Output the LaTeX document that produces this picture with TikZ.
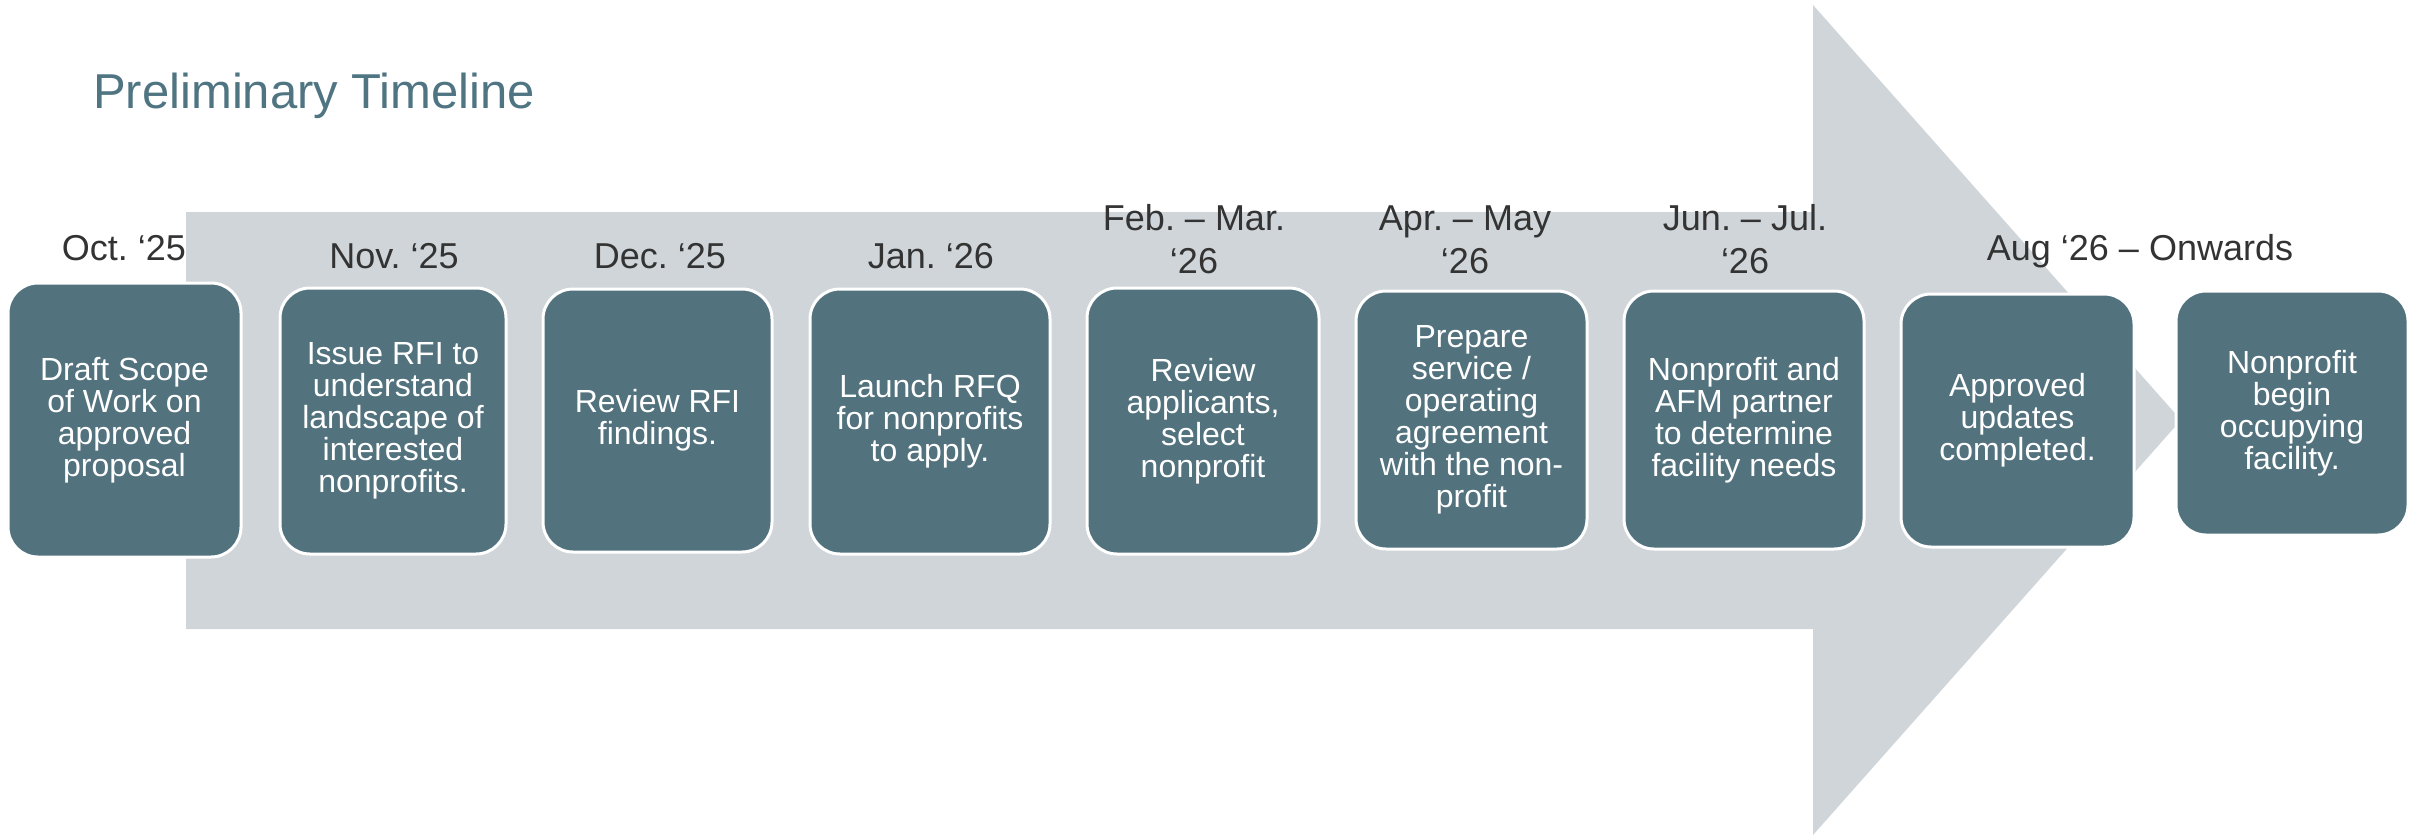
\documentclass[tikz,border=0pt]{standalone}
\usepackage{fontspec}
\setmainfont{Liberation Sans}
\definecolor{boxfill}{HTML}{52727E}
\definecolor{arrowgrey}{HTML}{CFD5D8}
\definecolor{titlecol}{HTML}{4F7482}
\definecolor{datecol}{HTML}{333333}
\begin{document}
\frenchspacing
\begin{tikzpicture}[x=1pt,y=-1pt,
  stepbox/.style={draw=white, line width=3pt, fill=boxfill, rounded corners=30pt,
    text=white, align=center, font=\fontsize{32}{32}\selectfont\frenchspacing, inner sep=0pt},
  datelbl/.style={text=datecol, align=center, font=\fontsize{36}{43}\selectfont\frenchspacing, inner sep=0pt, anchor=base},
  titlelbl/.style={text=titlecol, font=\fontsize{49}{55}\selectfont, inner sep=0pt, anchor=base west}]
\useasboundingbox (0,0) rectangle (2425,836);
% big background arrow
\fill[arrowgrey] (186,212) -- (1813,212) -- (1813,5) -- (2181,420) -- (1813,835) -- (1813,629) -- (186,629) -- cycle;
% title
\node[titlelbl] (title) at (93,108) {Preliminary Timeline};
% boxes
\node[stepbox, minimum width=233pt, minimum height=274pt] (b1) at (124.5,420) {Draft Scope\\of Work on\\approved\\proposal};
\node[stepbox, minimum width=226pt, minimum height=266pt] (b2) at (393,421) {Issue RFI to\\understand\\landscape of\\interested\\nonprofits.};
\node[stepbox, minimum width=229pt, minimum height=263pt] (b3) at (657.5,420.5) {Review RFI\\findings.};
\node[stepbox, minimum width=240pt, minimum height=265pt] (b4) at (930,421.5) {Launch RFQ\\for nonprofits\\to apply.};
\node[stepbox, minimum width=232pt, minimum height=266pt] (b5) at (1203,421) {Review\\applicants,\\select\\nonprofit};
\node[stepbox, minimum width=231pt, minimum height=258pt] (b6) at (1471.5,420) {Prepare\\service /\\operating\\agreement\\with the non-\\profit};
\node[stepbox, minimum width=240pt, minimum height=258pt] (b7) at (1744,420) {Nonprofit and\\AFM partner\\to determine\\facility needs};
\node[stepbox, minimum width=233pt, minimum height=253pt] (b8) at (2017.5,420.5) {Approved\\updates\\completed.};
\node[stepbox, minimum width=232pt, minimum height=244pt] (b9) at (2292,413) {Nonprofit\\begin\\occupying\\facility.};
% dates
\node[datelbl] (d1) at (124,260) {Oct. ‘25};
\node[datelbl] (d2) at (394,268) {Nov. ‘25};
\node[datelbl] (d3) at (660,268) {Dec. ‘25};
\node[datelbl] (d4) at (931,268) {Jan. ‘26};
\node[datelbl] (d5) at (1194,273) {Feb. – Mar.\\‘26};
\node[datelbl] (d6) at (1465,273) {Apr. – May\\‘26};
\node[datelbl] (d7) at (1745,273) {Jun. – Jul.\\‘26};
\node[datelbl] (d8) at (2140,260) {Aug ‘26 – Onwards};
\end{tikzpicture}
\end{document}
